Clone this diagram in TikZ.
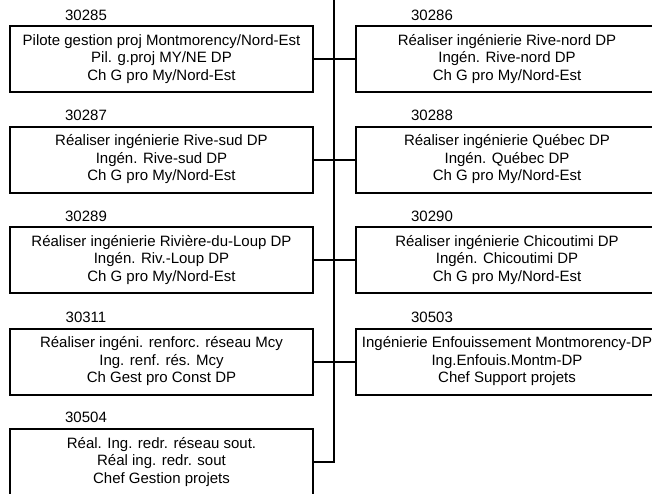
\documentclass[tikz,border=0pt]{standalone}
\usepackage{fontspec}
\setmainfont{Liberation Sans}
\begin{document}
\begin{tikzpicture}[x=1pt,y=-1pt,
  box/.style={draw, line width=2pt, minimum width=303pt, minimum height=66pt,
    inner sep=0pt, align=center, font=\fontsize{15}{17.5}\selectfont},
  num/.style={font=\fontsize{15}{17}\selectfont, inner sep=0pt},
  link/.style={line width=2pt}]
\useasboundingbox (0,0) rectangle (652,493);
\clip (0,0) rectangle (652,493);
% left column
\node[box] (b1) at (161.5,59) {Pilote gestion proj Montmorency/Nord-Est\\Pil. g.proj MY/NE DP\\Ch G pro My/Nord-Est};
\node[box] (b3) at (161.5,159.5) {Réaliser ingénierie Rive-sud DP\\Ingén. Rive-sud DP\\Ch G pro My/Nord-Est};
\node[box] (b5) at (161.5,260) {Réaliser ingénierie Rivière-du-Loup DP\\Ingén. Riv.-Loup DP\\Ch G pro My/Nord-Est};
\node[box] (b7) at (161.5,361.5) {Réaliser ingéni. renforc. réseau Mcy\\Ing. renf. rés. Mcy\\Ch Gest pro Const DP};
\node[box] (b9) at (161.5,462) {Réal. Ing. redr. réseau sout.\\Réal ing. redr. sout\\Chef Gestion projets};
% right column
\node[box] (b2) at (507,59) {Réaliser ingénierie Rive-nord DP\\Ingén. Rive-nord DP\\Ch G pro My/Nord-Est};
\node[box] (b4) at (507,159.5) {Réaliser ingénierie Québec DP\\Ingén. Québec DP\\Ch G pro My/Nord-Est};
\node[box] (b6) at (507,260) {Réaliser ingénierie Chicoutimi DP\\Ingén. Chicoutimi DP\\Ch G pro My/Nord-Est};
\node[box] (b8) at (507,361.5) {Ingénierie Enfouissement Montmorency-DP\\Ing.Enfouis.Montm-DP\\Chef Support projets};
% labels
\node[num] (n1) at (86,15) {30285};
\node[num] (n3) at (86,115.5) {30287};
\node[num] (n5) at (86,216) {30289};
\node[num] (n7) at (86,317) {30311};
\node[num] (n9) at (86,417) {30504};
\node[num] (n2) at (432,15) {30286};
\node[num] (n4) at (432,115.5) {30288};
\node[num] (n6) at (432,216) {30290};
\node[num] (n8) at (432,317) {30503};
% connectors
\coordinate (top) at (334.3,-2);
\draw[link] (b9.east) -| (top);
\draw[link] (b1.east) -- (b2.west);
\draw[link] (b3.east) -- (b4.west);
\draw[link] (b5.east) -- (b6.west);
\draw[link] (b7.east) -- (b8.west);
\end{tikzpicture}
\end{document}
